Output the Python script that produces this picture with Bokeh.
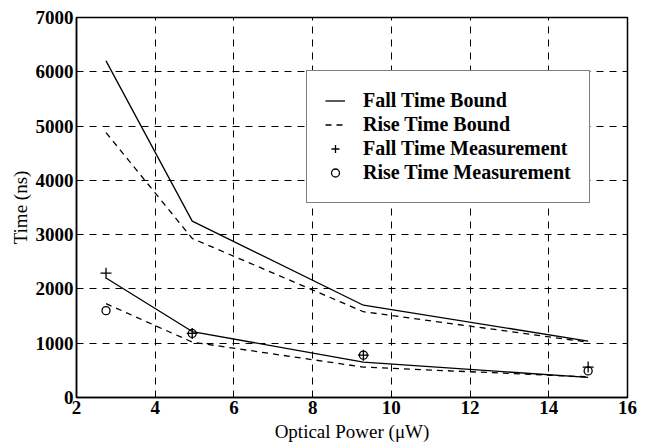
from bokeh.plotting import figure
from bokeh.models import Range1d, Legend, LegendItem, FixedTicker
from bokeh.embed import file_html
from bokeh.resources import INLINE

# Data
power = [2.75, 4.94, 9.29, 15.0]
fall_bound_hi = [6200, 3250, 1700, 1040]
rise_bound_hi = [4880, 2930, 1580, 1020]
fall_bound_lo = [2200, 1215, 650, 370]
rise_bound_lo = [1730, 1020, 560, 380]
fall_meas = [2290, 1180, 780, 560]
rise_meas = [1600, 1180, 780, 490]

x_ticks = [2, 4, 6, 8, 10, 12, 14, 16]
y_ticks = [0, 1000, 2000, 3000, 4000, 5000, 6000, 7000]

p = figure(width=646, height=447, output_backend="svg", toolbar_location=None,
           x_range=Range1d(2, 16), y_range=Range1d(0, 7000),
           min_border_left=76, min_border_right=19, min_border_top=17, min_border_bottom=50)

p.background_fill_color = "white"
p.border_fill_color = "white"
p.outline_line_color = "black"
p.outline_line_width = 1.5

for ax in (p.xaxis[0], p.yaxis[0]):
    ax.major_label_text_font = "Liberation Serif"
    ax.major_label_text_font_style = "bold"
    ax.major_label_text_font_size = "19px"
    ax.major_label_text_color = "black"
    ax.axis_label_text_font = "Liberation Serif"
    ax.axis_label_text_font_style = "normal"
    ax.axis_label_text_font_size = "19px"
    ax.axis_label_text_color = "black"
    ax.axis_line_color = "black"
    ax.axis_line_width = 1.5
    ax.major_tick_in = 0
    ax.major_tick_out = 0
    ax.minor_tick_line_color = None

p.xaxis.ticker = FixedTicker(ticks=x_ticks)
p.yaxis.ticker = FixedTicker(ticks=y_ticks)
p.xaxis.axis_label = "Optical Power (\u03bcW)"
p.yaxis.axis_label = "Time (ns)"
p.xaxis.major_label_standoff = 3
p.yaxis.major_label_standoff = 3
p.xaxis.axis_label_standoff = 4
p.yaxis.axis_label_standoff = 2

p.xgrid.grid_line_color = "black"
p.ygrid.grid_line_color = "black"
p.xgrid.grid_line_dash = "7 6"
p.ygrid.grid_line_dash = "7 6"
p.xgrid.grid_line_width = 1.0
p.ygrid.grid_line_width = 1.2

r1 = p.line(power, fall_bound_hi, line_color="black", line_width=1.3)
p.line(power, fall_bound_lo, line_color="black", line_width=1.3)
r2 = p.line(power, rise_bound_hi, line_color="black", line_width=1.3, line_dash="6 5")
p.line(power, rise_bound_lo, line_color="black", line_width=1.3, line_dash="6 5")
r3 = p.scatter(power, fall_meas, marker="cross", size=11, line_color="black", line_width=1.3)
r4 = p.scatter(power, rise_meas, marker="circle", size=8, line_color="black",
               fill_color=None, line_width=1.3)

legend = Legend(items=[
    LegendItem(label="Fall Time Bound", renderers=[r1]),
    LegendItem(label="Rise Time Bound", renderers=[r2]),
    LegendItem(label="Fall Time Measurement", renderers=[r3]),
    LegendItem(label="Rise Time Measurement", renderers=[r4]),
], location=(230, 194))
legend.label_text_font = "Liberation Serif"
legend.label_text_font_style = "bold"
legend.label_text_font_size = "20px"
legend.label_text_color = "black"
legend.border_line_color = "black"
legend.border_line_width = 1.5
legend.background_fill_alpha = 1.0
legend.padding = 18
legend.spacing = 1
legend.label_height = 21
legend.glyph_height = 21
legend.glyph_width = 20
legend.label_standoff = 18
legend.margin = 0
p.add_layout(legend, "center")

open("out.html", "w").write(file_html(p, INLINE))
